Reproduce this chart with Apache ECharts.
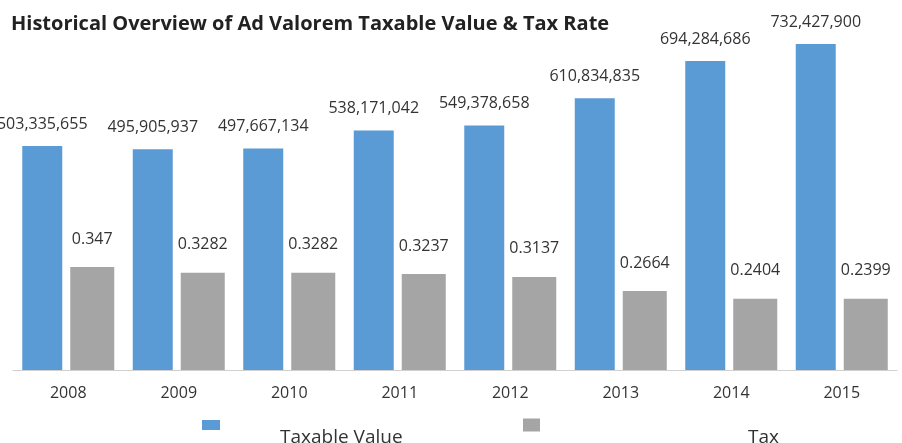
<!DOCTYPE html>
<html>
<head>
<meta charset="utf-8">
<script src="https://cdn.jsdelivr.net/npm/echarts@6/dist/echarts.min.js"></script>
<style>
  html, body { margin: 0; padding: 0; background: #fff; }
  #chart { width: 902px; height: 443px; }
</style>
</head>
<body>
<div id="chart"></div>
<script>
// Fiscal years
const years = ['2008', '2009', '2010', '2011', '2012', '2013', '2014', '2015'];
// Ad valorem taxable value (dollars)
const taxableValue = [503335655, 495905937, 497667134, 538171042, 549378658, 610834835, 694284686, 732427900];
// Millage / tax rate
const taxRate = [0.347, 0.3282, 0.3282, 0.3237, 0.3137, 0.2664, 0.2404, 0.2399];

const fmtThousands = v => v.toLocaleString('en-US');

// Legend text sits a little below and well to the right of its swatch
const legendText = (padLeft) => ({
  fontFamily: 'Open Sans',
  fontSize: 19,
  color: '#333',
  lineHeight: 26,
  padding: [0, 0, 0, padLeft]
});

const chart = echarts.init(document.getElementById('chart'), null, { renderer: 'canvas' });

chart.setOption({
  animation: false,
  backgroundColor: '#ffffff',
  title: {
    text: 'Historical Overview of Ad Valorem Taxable Value & Tax Rate',
    left: 6,
    top: 9,
    textStyle: { fontFamily: 'Open Sans', fontWeight: 'bold', fontSize: 20, color: '#222' }
  },
  legend: [
    {
      data: ['Taxable Value'],
      left: 197,
      top: 394,
      icon: 'rect',
      itemWidth: 18,
      itemHeight: 10,
      itemGap: 0,
      formatter: name => '\n' + name,
      textStyle: legendText(55)
    },
    {
      data: ['Tax'],
      left: 518,
      top: 394,
      icon: 'rect',
      itemWidth: 17,
      itemHeight: 13,
      itemGap: 0,
      formatter: name => '\n' + name,
      textStyle: legendText(203)
    }
  ],
  grid: { left: 13, right: 5, top: 14, bottom: 73, containLabel: false },
  xAxis: {
    type: 'category',
    data: years,
    axisLine: { lineStyle: { color: '#d0d0d0', width: 1 } },
    axisTick: { show: false },
    axisLabel: { fontFamily: 'Open Sans', fontSize: 16, color: '#333', margin: 15 }
  },
  yAxis: [
    { type: 'value', min: 0, max: 800000000, show: false, splitLine: { show: false } },
    { type: 'value', min: 0, max: 1.2, show: false, splitLine: { show: false } }
  ],
  series: [
    {
      name: 'Taxable Value',
      type: 'bar',
      yAxisIndex: 0,
      data: taxableValue,
      barWidth: 40,
      barGap: '20%',
      itemStyle: { color: '#5B9BD5' },
      label: {
        show: true,
        position: 'top',
        distance: 14,
        fontFamily: 'Open Sans',
        fontSize: 16,
        color: '#333',
        formatter: p => fmtThousands(p.value)
      }
    },
    {
      name: 'Tax',
      type: 'bar',
      yAxisIndex: 1,
      data: taxRate,
      barWidth: 44,
      itemStyle: { color: '#A5A5A5' },
      label: {
        show: true,
        position: 'top',
        distance: 20,
        fontFamily: 'Open Sans',
        fontSize: 16,
        color: '#333',
        formatter: p => String(p.value)
      }
    }
  ]
});
</script>
</body>
</html>
